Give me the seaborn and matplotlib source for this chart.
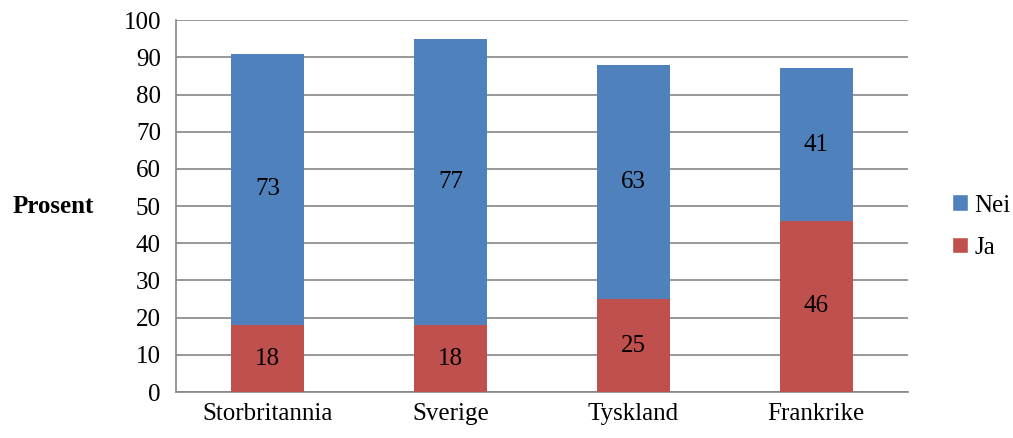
# Stacked bar chart: Ja / Nei per country
import pandas as pd
import matplotlib.pyplot as plt
import seaborn as sns
from matplotlib.patches import Patch

countries = ['Storbritannia', 'Sverige', 'Tyskland', 'Frankrike']
ja = [18, 18, 25, 46]
nei = [73, 77, 63, 41]

df = pd.DataFrame({'Land': countries, 'Ja': ja, 'Nei': nei})
df['Total'] = df['Ja'] + df['Nei']

sns.set_style('white')
plt.rcParams['font.family'] = ['Liberation Serif', 'DejaVu Serif']
plt.rcParams['text.color'] = 'black'
plt.rcParams['xtick.color'] = 'black'
plt.rcParams['ytick.color'] = 'black'

blue = '#4F81BD'
red = '#C0504D'
grid_col = '#868686'
fs = 18

fig = plt.figure(figsize=(10.13, 4.38), dpi=100)
ax = fig.add_axes([0.174, 0.105, 0.722, 0.849])

sns.barplot(data=df, x='Land', y='Total', color=blue, width=0.4,
            saturation=1, linewidth=0, ax=ax, zorder=3)
sns.barplot(data=df, x='Land', y='Ja', color=red, width=0.4,
            saturation=1, linewidth=0, ax=ax, zorder=3)

for i, row in df.iterrows():
    ax.text(i, row['Ja'] / 2, str(row['Ja']), ha='center', va='center',
            fontsize=fs, zorder=4)
    ax.text(i, row['Ja'] + row['Nei'] / 2, str(row['Nei']), ha='center',
            va='center', fontsize=fs, zorder=4)

ax.set_ylim(0, 100)
ax.set_xlim(-0.5, 3.5)
ax.set_yticks(range(0, 101, 10))
ax.yaxis.grid(True, color=grid_col, linewidth=1.2, zorder=0)
ax.set_axisbelow(True)

# x ticks sit at category boundaries
ax.set_xticks([-0.5, 0.5, 1.5, 2.5, 3.5], minor=True)
ax.tick_params(axis='x', which='major', length=0, labelsize=fs, pad=8)
ax.tick_params(axis='x', which='minor', length=7, width=1.2, color=grid_col,
               direction='out')
ax.tick_params(axis='y', length=7, width=1.2, color=grid_col,
               direction='out', labelsize=fs, labelcolor='black', pad=4)

for s in ['top', 'right']:
    ax.spines[s].set_visible(False)
for s in ['left', 'bottom']:
    ax.spines[s].set_color(grid_col)
    ax.spines[s].set_linewidth(1.2)

ax.set_xlabel('')
ax.set_ylabel('Prosent', rotation=0, fontsize=fs, fontweight='bold',
              ha='left', va='center', color='black')
ax.yaxis.set_label_coords(-0.224, 0.50)

handles = [Patch(facecolor=blue, label='Nei'), Patch(facecolor=red, label='Ja')]
ax.legend(handles=handles, loc='center left', bbox_to_anchor=(1.037, 0.445),
          frameon=False, fontsize=fs, handlelength=0.65, handleheight=0.65,
          handletextpad=0.25, labelspacing=0.8, borderpad=0.2)

plt.savefig('out.png', dpi=100)
